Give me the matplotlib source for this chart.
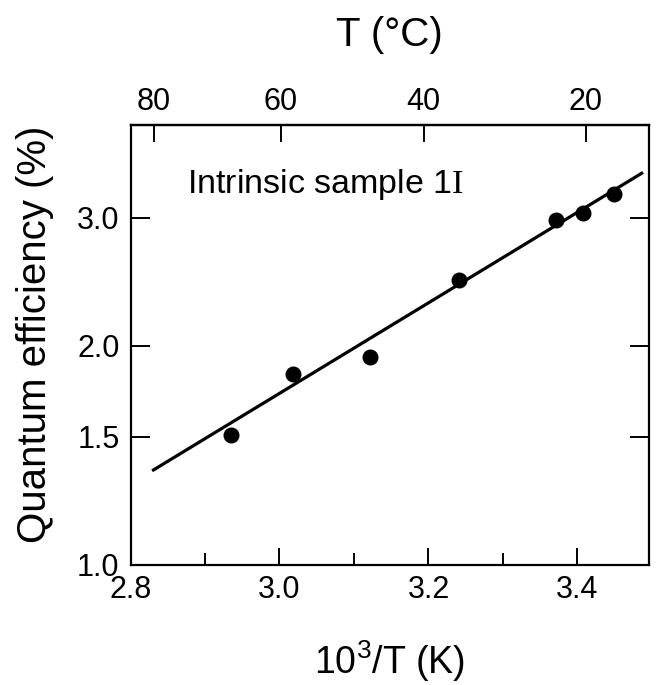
import matplotlib
matplotlib.use("Agg")
import matplotlib.pyplot as plt
from matplotlib.ticker import FixedLocator, NullFormatter, NullLocator

plt.rcParams['font.family'] = ['Liberation Sans', 'DejaVu Sans']
plt.rcParams['mathtext.fontset'] = 'custom'
plt.rcParams['mathtext.rm'] = 'Liberation Serif'
plt.rcParams['mathtext.sf'] = 'Liberation Sans'

# measured points: 10^3/T (1/K) vs quantum efficiency (%)
inv_t = [2.935, 3.018, 3.121, 3.241, 3.371, 3.407, 3.449]
qe = [1.51, 1.83, 1.93, 2.46, 2.98, 3.04, 3.23]

# straight-line fit drawn in the figure (end points)
fit_x = [2.829, 3.488]
fit_y = [1.347, 3.46]

x_major = [2.8, 3.0, 3.2, 3.4]
x_minor = [2.9, 3.1, 3.3]
y_ticks = [1.0, 1.5, 2.0, 3.0]
y_labels = ['1.0', '1.5', '2.0', '3.0']
t_celsius = [80, 60, 40, 20]

fig = plt.figure(figsize=(6.58, 6.85), dpi=100)
ax = fig.add_axes([130.5 / 658, 1 - 565 / 685, 518.5 / 658, 440 / 685])

ax.plot(fit_x, fit_y, color='black', lw=2.3, solid_capstyle='butt')
ax.plot(inv_t, qe, 'o', color='black', ms=10.5)

ax.set_yscale('log')
ax.set_xlim(2.8, 3.496)
ax.set_ylim(1.0, 4.02)

ax.yaxis.set_major_locator(FixedLocator(y_ticks))
ax.yaxis.set_minor_locator(NullLocator())
ax.set_yticklabels(y_labels)
ax.yaxis.set_minor_formatter(NullFormatter())
ax.xaxis.set_major_locator(FixedLocator(x_major))
ax.xaxis.set_minor_locator(FixedLocator(x_minor))
ax.set_xticklabels([f'{v:.1f}' for v in x_major])

for s in ax.spines.values():
    s.set_linewidth(1.6)

ax.tick_params(axis='both', which='both', direction='in', labelsize=22, width=1.4)
ax.tick_params(axis='y', which='major', length=14, right=True, pad=8)
ax.tick_params(axis='x', which='major', length=12.5, pad=7)
ax.tick_params(axis='x', which='minor', length=9)

# top axis in degrees Celsius
sec = ax.secondary_xaxis('top', functions=(lambda x: 1000.0 / x - 273.15,
                                           lambda t: 1000.0 / (t + 273.15)))
sec.xaxis.set_major_locator(FixedLocator(t_celsius))
sec.xaxis.set_minor_locator(NullLocator())
sec.spines['top'].set_linewidth(1.6)
sec.tick_params(axis='x', direction='in', length=12, width=1.4, labelsize=22, pad=6)

ax.text((187 - 130.5) / 518.5, (565 - 185) / 440, r'Intrinsic sample 1$\mathrm{I}$',
        transform=ax.transAxes, fontsize=24.5, ha='left', va='center')

fig.text(35 / 658, 1 - 334 / 685, 'Quantum efficiency (%)', rotation=90,
         fontsize=29, ha='center', va='center')
fig.text(390 / 658, 1 - 661 / 685, r'10$^{\mathsf{3}}$/T (K)', fontsize=27,
         ha='center', va='center')
fig.text(389 / 658, 1 - 35 / 685, 'T (°C)', fontsize=29, ha='center', va='center')

fig.savefig('out.png', dpi=100)
